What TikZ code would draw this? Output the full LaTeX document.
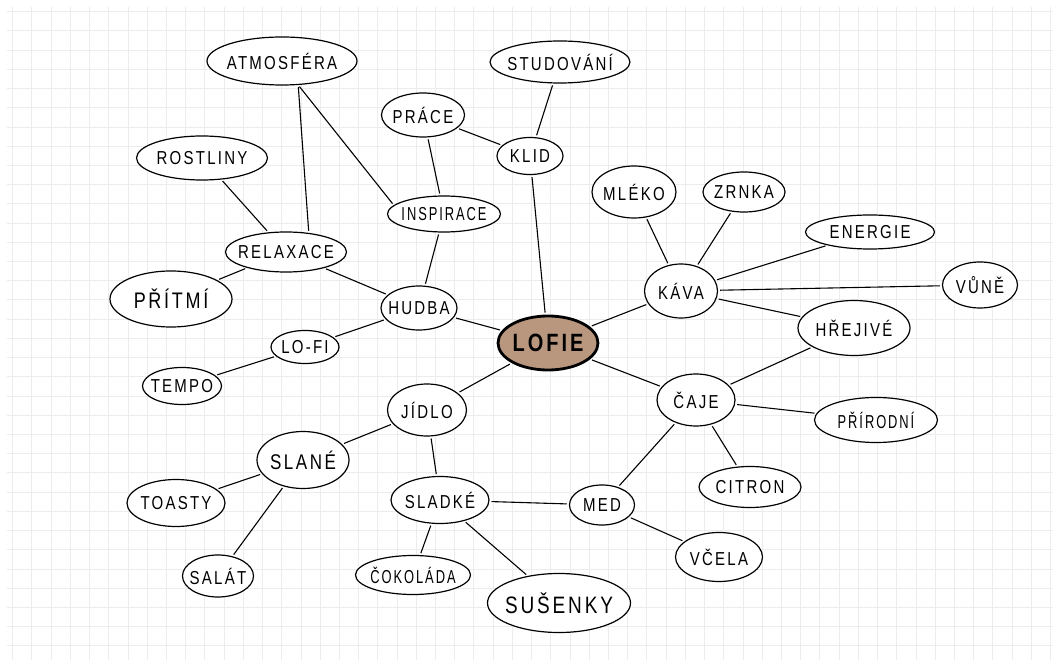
\documentclass[tikz,border=0pt]{standalone}
\usepackage{fontspec}
\usepackage{graphicx}
\newfontfamily\hand[LetterSpace=15.0]{Liberation Sans}
\newcommand\hw[1]{\makebox[0pt]{\scalebox{1}[1.25]{#1}}}
\newcommand\hwn[1]{\makebox[0pt]{\scalebox{0.86}[1.25]{#1}}}
\usetikzlibrary{shapes.geometric}
\definecolor{gridc}{HTML}{ECECEC}
\definecolor{lofiebrown}{HTML}{B9977F}
\tikzset{
  hn/.style={ellipse, draw=black, line width=1.2pt, inner sep=0pt, fill=white,
    font=\hand\fontsize{15}{17}\selectfont},
  sz/.style 2 args={minimum width=#1pt, minimum height=#2pt},
  conn/.style={line width=1.1pt, shorten >=2pt, shorten <=2pt},
  gridline/.style={draw=gridc, line width=1pt}
}
\begin{document}
\begin{tikzpicture}[x=1pt,y=-1pt]
\fill[white] (0,0) rectangle (1053,660);
\useasboundingbox (0,0) rectangle (1053,660);
% grid
\foreach \i in {0,...,54} { \draw[gridline] ({12.7+19.22*\i},7) -- ({12.7+19.22*\i},660); }
\foreach \j in {0,...,33} { \draw[gridline] (7,{11.7+19.22*\j}) -- (1053,{11.7+19.22*\j}); }

% nodes
\node[hn, sz={150}{48}] (atm) at (282,61) {\hw{ATMOSFÉRA}};
\node[hn, sz={140}{42}] (stu) at (560,62) {\hw{STUDOVÁNÍ}};
\node[hn, sz={83}{44}] (pra) at (423,115) {\hw{PRÁCE}};
\node[hn, sz={66}{37}] (kli) at (530,156) {\hw{KLID}};
\node[hn, sz={131}{44}] (ros) at (202,158) {\hw{ROSTLINY}};
\node[hn, sz={113}{36}] (ins) at (444,214) {\hwn{INSPIRACE}};
\node[hn, sz={121}{40}] (rel) at (286,252) {\hw{RELAXACE}};
\node[hn, sz={122}{56}, font=\hand\fontsize{18}{20}\selectfont] (pri) at (171,299) {\hw{PŘÍTMÍ}};
\node[hn, sz={76}{44}] (hud) at (419,308) {\hw{HUDBA}};
\node[hn, sz={68}{33}] (lof) at (305,347) {\hw{LO-FI}};
\node[hn, sz={79}{37}] (tem) at (182,386) {\hw{TEMPO}};
\node[ellipse, draw=black, line width=2.8pt, fill=lofiebrown, inner sep=0pt, sz={100}{54},
  font=\hand\bfseries\fontsize{20}{24}\selectfont] (cen) at (548,343) {\hw{LOFIE}};
\node[hn, sz={84}{52}] (mle) at (634,192) {\hw{MLÉKO}};
\node[hn, sz={82}{40}] (zrn) at (744,192) {\hw{ZRNKA}};
\node[hn, sz={129}{34}] (ene) at (870,232) {\hw{ENERGIE}};
\node[hn, sz={73}{54}] (kav) at (681,291) {\hw{KÁVA}};
\node[hn, sz={75}{46}] (vun) at (980,285) {\hw{VŮNĚ}};
\node[hn, sz={112}{55}] (hre) at (854,328) {\hw{HŘEJIVÉ}};
\node[hn, sz={78}{52}] (caj) at (696,400) {\hw{ČAJE}};
\node[hn, sz={123}{45}] (pro) at (876,420) {\hwn{PŘÍRODNÍ}};
\node[hn, sz={102}{41}] (cit) at (750,487) {\hw{CITRON}};
\node[hn, sz={79}{52}] (jid) at (427,410) {\hw{JÍDLO}};
\node[hn, sz={92}{57}, font=\hand\fontsize{17}{19}\selectfont] (sla) at (303,460) {\hw{SLANÉ}};
\node[hn, sz={98}{47}] (toa) at (176,503) {\hw{TOASTY}};
\node[hn, sz={71}{42}] (sal) at (218,576) {\hw{SALÁT}};
\node[hn, sz={98}{47}] (sld) at (440,500) {\hw{SLADKÉ}};
\node[hn, sz={115}{39}] (cok) at (413,575) {\hwn{ČOKOLÁDA}};
\node[hn, sz={143}{59}, font=\hand\fontsize{19}{21}\selectfont] (sus) at (559,603) {\hw{SUŠENKY}};
\node[hn, sz={65}{40}] (med) at (602,505) {\hw{MED}};
\node[hn, sz={87}{49}] (vce) at (719,557) {\hw{VČELA}};

% connectors
\draw[conn] (cen) -- (kli);
\draw[conn] (kli) -- (stu);
\draw[conn] (kli) -- (pra);
\draw[conn] (pra) -- (ins);
\draw[conn] (atm.-56) -- (ins.170);
\draw[conn] (atm.-56) -- (rel.40);
\draw[conn] (ros) -- (rel);
\draw[conn] (rel) -- (pri);
\draw[conn] (rel) -- (hud);
\draw[conn] (ins) -- (hud);
\draw[conn] (hud) -- (cen);
\draw[conn] (hud) -- (lof);
\draw[conn] (lof) -- (tem);
\draw[conn] (cen) -- (kav);
\draw[conn] (kav) -- (mle);
\draw[conn] (kav) -- (zrn);
\draw[conn] (kav) -- (ene);
\draw[conn] (kav) -- (vun);
\draw[conn] (kav) -- (hre);
\draw[conn] (hre) -- (caj);
\draw[conn] (cen) -- (caj);
\draw[conn] (caj) -- (pro);
\draw[conn] (caj) -- (cit);
\draw[conn] (caj) -- (med);
\draw[conn] (med) -- (vce);
\draw[conn] (med) -- (sld);
\draw[conn] (cen) -- (jid);
\draw[conn] (jid) -- (sla);
\draw[conn] (jid) -- (sld);
\draw[conn] (sla) -- (toa);
\draw[conn] (sla) -- (sal);
\draw[conn] (sld) -- (cok);
\draw[conn] (sld) -- (sus);
\end{tikzpicture}
\end{document}
